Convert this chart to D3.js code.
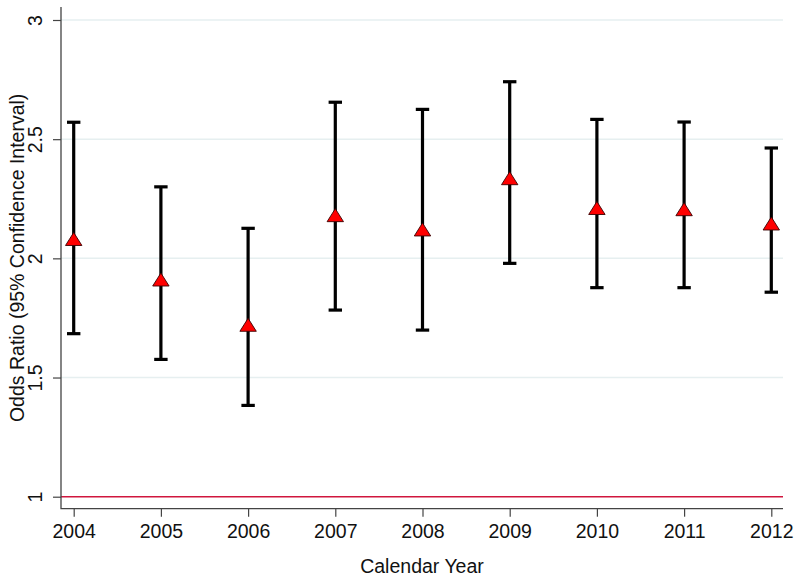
<!DOCTYPE html>
<html>
<head>
<meta charset="utf-8">
<script src="https://cdn.jsdelivr.net/npm/d3@7"></script>
<style>
  body { margin: 0; background: #fff; }
  text { font-family: "Liberation Sans", Arial, Helvetica, sans-serif; fill: #111; }
</style>
</head>
<body>
<div class="chart"></div>
<script>
// data
var years = [2004, 2005, 2006, 2007, 2008, 2009, 2010, 2011, 2012];
var oddsRatio = [2.08, 1.91, 1.72, 2.18, 2.12, 2.335, 2.21, 2.205, 2.145];
var lowerCI = [1.684, 1.576, 1.383, 1.783, 1.699, 1.979, 1.877, 1.877, 1.858];
var upperCI = [2.571, 2.30, 2.126, 2.655, 2.625, 2.741, 2.583, 2.572, 2.463];
var yTicks = [1, 1.5, 2, 2.5, 3];

var w = 800, h = 580;
var axisX = 61, axisBottom = 508.7, plotRight = 783, axisTop = 7;

var svg = d3.select('.chart')
    .append('svg')
    .attr('width', w)
    .attr('height', h);

var x_scale = d3.scaleLinear()
    .domain([2004, 2012])
    .range([73.7, 771.3]);

var y_scale = d3.scaleLinear()
    .domain([1, 3])
    .range([496.7, 20]);

// gridlines
svg.append('g')
    .selectAll('line')
    .data(yTicks.filter(d => d > 1))
    .enter()
    .append('line')
    .attr('x1', axisX)
    .attr('x2', plotRight)
    .attr('y1', d => y_scale(d))
    .attr('y2', d => y_scale(d))
    .attr('stroke', '#e6eff0')
    .attr('stroke-width', 1.5);

// reference line at 1
svg.append('line')
    .attr('x1', axisX)
    .attr('x2', plotRight)
    .attr('y1', y_scale(1))
    .attr('y2', y_scale(1))
    .attr('stroke', '#d0163e')
    .attr('stroke-width', 1.5);

// y axis
var y_axis = d3.axisLeft(y_scale)
    .tickValues(yTicks)
    .tickSize(8)
    .tickFormat(d3.format('~g'));
var yg = svg.append('g')
    .attr('transform', 'translate(' + axisX + ',0)')
    .call(y_axis);
yg.select('.domain').remove();
yg.selectAll('.tick line').attr('stroke', '#444').attr('stroke-width', 1.2);
yg.selectAll('.tick text')
    .attr('transform', 'rotate(-90)')
    .attr('x', 0)
    .attr('y', -19)
    .attr('dy', 0)
    .style('text-anchor', 'middle')
    .style('font-size', '19.5px')
    .style('fill', '#111');

// x axis
var x_axis = d3.axisBottom(x_scale)
    .tickValues(years)
    .tickSize(8)
    .tickFormat(d3.format('d'));
var xg = svg.append('g')
    .attr('transform', 'translate(0,' + axisBottom + ')')
    .call(x_axis);
xg.select('.domain').remove();
xg.selectAll('.tick line').attr('stroke', '#444').attr('stroke-width', 1.2);
xg.selectAll('.tick text')
    .attr('y', 29.5)
    .attr('dy', 0)
    .style('font-size', '19.5px')
    .style('fill', '#111');

// axis lines
svg.append('path')
    .attr('d', d3.line()([[axisX, axisTop], [axisX, axisBottom], [plotRight, axisBottom]]))
    .attr('fill', 'none')
    .attr('stroke', '#444')
    .attr('stroke-width', 1.3);

// axis titles
svg.append('text')
    .attr('transform', 'translate(24,' + ((axisTop + axisBottom) / 2 + 0) + ') rotate(-90)')
    .style('text-anchor', 'middle')
    .style('font-size', '19.5px')
    .text('Odds Ratio (95% Confidence Interval)');

svg.append('text')
    .attr('x', (axisX + plotRight) / 2)
    .attr('y', 573)
    .style('text-anchor', 'middle')
    .style('font-size', '19.5px')
    .text('Calendar Year');

// error bars
var capW = 6.7;
var bars = svg.selectAll('.bar')
    .data(years)
    .enter()
    .append('g')
    .attr('class', 'bar');

bars.append('line')
    .attr('x1', d => x_scale(d))
    .attr('x2', d => x_scale(d))
    .attr('y1', (d, i) => y_scale(lowerCI[i]))
    .attr('y2', (d, i) => y_scale(upperCI[i]))
    .attr('stroke', '#000')
    .attr('stroke-width', 3.2);
bars.append('line')
    .attr('x1', d => x_scale(d) - capW)
    .attr('x2', d => x_scale(d) + capW)
    .attr('y1', (d, i) => y_scale(upperCI[i]))
    .attr('y2', (d, i) => y_scale(upperCI[i]))
    .attr('stroke', '#000')
    .attr('stroke-width', 3.2);
bars.append('line')
    .attr('x1', d => x_scale(d) - capW)
    .attr('x2', d => x_scale(d) + capW)
    .attr('y1', (d, i) => y_scale(lowerCI[i]))
    .attr('y2', (d, i) => y_scale(lowerCI[i]))
    .attr('stroke', '#000')
    .attr('stroke-width', 3.2);

// triangle markers
bars.append('path')
    .attr('transform', (d, i) => 'translate(' + x_scale(d) + ',' + y_scale(oddsRatio[i]) + ')')
    .attr('d', 'M0,-6.8L8.2,6.2L-8.2,6.2Z')
    .attr('fill', '#f00')
    .attr('stroke', '#3a0000')
    .attr('stroke-width', 0.9);
</script>
</body>
</html>
